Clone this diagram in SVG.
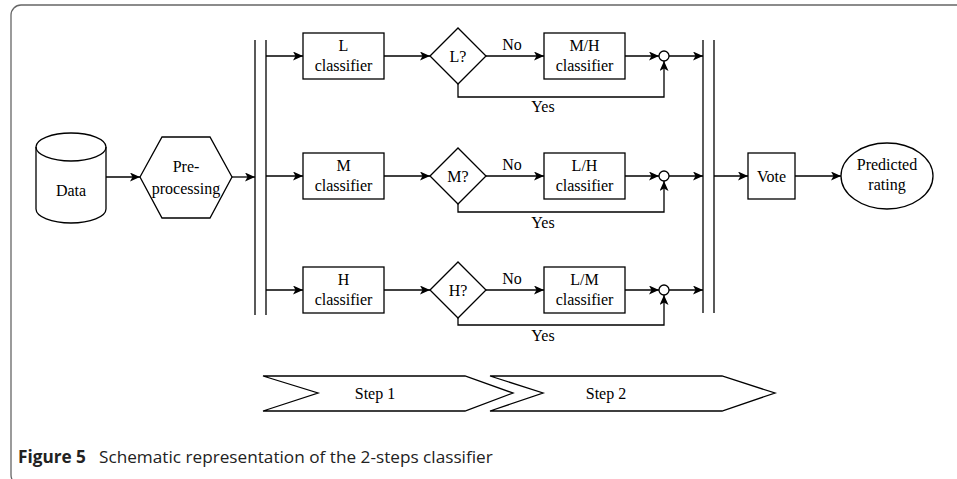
<svg xmlns="http://www.w3.org/2000/svg" width="957" height="479" viewBox="0 0 957 479">
<defs>
<marker id="ah" markerWidth="11" markerHeight="9" refX="10" refY="4.5" orient="auto" markerUnits="userSpaceOnUse">
<path d="M0,0 L10,4.5 L0,9 L2.5,4.5 z" fill="#000"/>
</marker>
<style>
.s{fill:#fff;stroke:#000;stroke-width:1.3}
.c{fill:none;stroke:#000;stroke-width:1.3}
.a{fill:none;stroke:#000;stroke-width:1.3;marker-end:url(#ah)}
.t{font-family:"Liberation Serif","Times New Roman",serif;font-size:16px;text-anchor:middle;fill:#000}
.cap{font-family:"Open Sans","Noto Sans",sans-serif;font-size:17.2px;fill:#222}
</style>
</defs>
<rect x="11" y="5" width="1000" height="480" rx="10" ry="10" fill="none" stroke="#666" stroke-width="1.3"/>

<g id="data">
<path class="s" d="M36,147 A35,14 0 0 1 106,147 L106,209 A35,14 0 0 1 36,209 Z"/>
<path class="c" d="M36,147 A35,14 0 0 0 106,147"/>
<text class="t" x="71" y="196">Data</text>
</g>
<g id="preprocessing">
<polygon class="s" points="140,177 162,137 210,137 232,177 210,218 162,218"/>
<text class="t" x="186" y="172">Pre-</text>
<text class="t" x="186" y="194">processing</text>
</g>
<g id="fork">
<line class="c" x1="255" y1="40" x2="255" y2="315"/>
<line class="c" x1="266" y1="40" x2="266" y2="315"/>
</g>
<g id="join">
<line class="c" x1="703" y1="40" x2="703" y2="313"/>
<line class="c" x1="714" y1="40" x2="714" y2="313"/>
</g>

<g id="lclass"><rect class="s" x="303" y="33" width="81" height="46"/><text class="t" x="343.5" y="51">L</text><text class="t" x="343.5" y="71">classifier</text></g>
<g id="lq"><polygon class="s" points="430,56 458,28 486,56 458,84"/><text class="t" x="458" y="62">L?</text></g>
<g id="mhclass"><rect class="s" x="544" y="33" width="81" height="46"/><text class="t" x="584.5" y="51">M/H</text><text class="t" x="584.5" y="71">classifier</text></g>
<g id="j1"><circle class="s" cx="664" cy="56" r="5"/></g>

<g id="mclass"><rect class="s" x="303" y="153" width="81" height="46"/><text class="t" x="343.5" y="171">M</text><text class="t" x="343.5" y="191">classifier</text></g>
<g id="mq"><polygon class="s" points="430,176 458,148 486,176 458,204"/><text class="t" x="458" y="182">M?</text></g>
<g id="lhclass"><rect class="s" x="544" y="153" width="81" height="46"/><text class="t" x="584.5" y="171">L/H</text><text class="t" x="584.5" y="191">classifier</text></g>
<g id="j2"><circle class="s" cx="664" cy="176" r="5"/></g>

<g id="hclass"><rect class="s" x="303" y="267" width="81" height="46"/><text class="t" x="343.5" y="285">H</text><text class="t" x="343.5" y="305">classifier</text></g>
<g id="hq"><polygon class="s" points="430,290 458,262 486,290 458,318"/><text class="t" x="458" y="296">H?</text></g>
<g id="lmclass"><rect class="s" x="544" y="267" width="81" height="46"/><text class="t" x="584.5" y="285">L/M</text><text class="t" x="584.5" y="305">classifier</text></g>
<g id="j3"><circle class="s" cx="664" cy="290" r="5"/></g>

<g id="vote"><rect class="s" x="748" y="153" width="47" height="46"/><text class="t" x="771.5" y="182">Vote</text></g>
<g id="predicted"><ellipse class="s" cx="887" cy="176" rx="46" ry="33"/><text class="t" x="887" y="170">Predicted</text><text class="t" x="887" y="190">rating</text></g>

<g id="step1"><polygon class="s" points="263,376 465,376 513,393 465,411 263,411 318,393"/><text class="t" x="375" y="399">Step 1</text></g>
<g id="step2"><polygon class="s" points="490,376 722,376 775,393 722,411 490,411 543,393"/><text class="t" x="606" y="399">Step 2</text></g>

<g id="connectors">
<line class="a" x1="106" y1="177" x2="140" y2="177"/>
<line class="a" x1="232" y1="177" x2="255" y2="177"/>
<line class="a" x1="266" y1="56" x2="303" y2="56"/>
<line class="a" x1="266" y1="176" x2="303" y2="176"/>
<line class="a" x1="266" y1="290" x2="303" y2="290"/>
<line class="a" x1="384" y1="56" x2="430" y2="56"/>
<line class="a" x1="384" y1="176" x2="430" y2="176"/>
<line class="a" x1="384" y1="290" x2="430" y2="290"/>
<line class="a" x1="486" y1="56" x2="544" y2="56"/>
<line class="a" x1="486" y1="176" x2="544" y2="176"/>
<line class="a" x1="486" y1="290" x2="544" y2="290"/>
<line class="a" x1="625" y1="56" x2="659" y2="56"/>
<line class="a" x1="625" y1="176" x2="659" y2="176"/>
<line class="a" x1="625" y1="290" x2="659" y2="290"/>
<line class="a" x1="669" y1="56" x2="703" y2="56"/>
<line class="a" x1="669" y1="176" x2="703" y2="176"/>
<line class="a" x1="669" y1="290" x2="703" y2="290"/>
<polyline class="a" points="458,84 458,97 664,97 664,61"/>
<polyline class="a" points="458,204 458,212 664,212 664,181"/>
<polyline class="a" points="458,318 458,325 664,325 664,295"/>
<line class="a" x1="714" y1="176" x2="748" y2="176"/>
<line class="a" x1="795" y1="176" x2="841" y2="176"/>
<text class="t" x="512" y="50">No</text>
<text class="t" x="512" y="170">No</text>
<text class="t" x="512" y="284">No</text>
<text class="t" x="543" y="112">Yes</text>
<text class="t" x="543" y="228">Yes</text>
<text class="t" x="543" y="341">Yes</text>
</g>

<text class="cap" x="18" y="463" font-weight="bold">Figure 5</text>
<text class="cap" x="99" y="463">Schematic representation of the 2-steps classifier</text>
</svg>
